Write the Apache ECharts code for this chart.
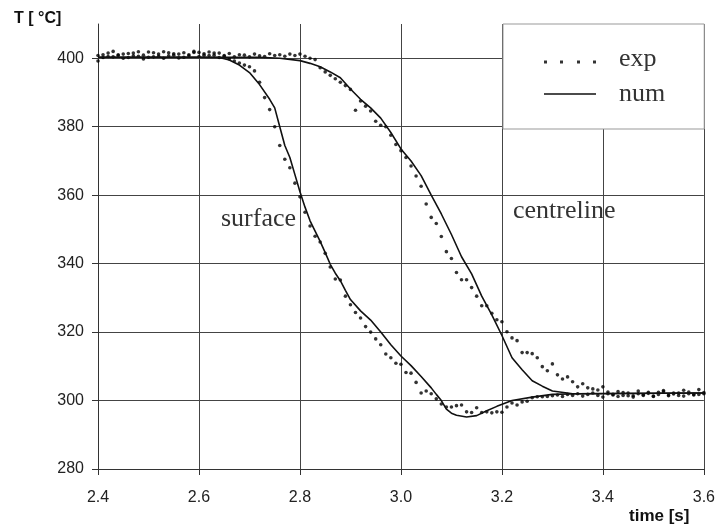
<!DOCTYPE html>
<html>
<head>
<meta charset="UTF-8">
<title>T over time</title>
<script type="text/javascript" src="https://cdn.jsdelivr.net/npm/echarts@6/dist/echarts.min.js"></script>
<style type="text/css">
body {
	margin: 0;
	background-color: #fff
}
</style>
</head>
<body>
	<div id="result_chart" style="height: 527px; width: 718px"></div>
</body>
<script type="text/javascript">
	var xTicks = [ 2.4, 2.6, 2.8, 3.0, 3.2, 3.4, 3.6 ];
	var yTicks = [ 280, 300, 320, 340, 360, 380, 400 ];

	// measured points, one every 0.01 s
	var expTime = [ 2.40, 2.41, 2.42, 2.43, 2.44, 2.45, 2.46, 2.47, 2.48, 2.49,
			2.50, 2.51, 2.52, 2.53, 2.54, 2.55, 2.56, 2.57, 2.58, 2.59, 2.60,
			2.61, 2.62, 2.63, 2.64, 2.65, 2.66, 2.67, 2.68, 2.69, 2.70, 2.71,
			2.72, 2.73, 2.74, 2.75, 2.76, 2.77, 2.78, 2.79, 2.80, 2.81, 2.82,
			2.83, 2.84, 2.85, 2.86, 2.87, 2.88, 2.89, 2.90, 2.91, 2.92, 2.93,
			2.94, 2.95, 2.96, 2.97, 2.98, 2.99, 3.00, 3.01, 3.02, 3.03, 3.04,
			3.05, 3.06, 3.07, 3.08, 3.09, 3.10, 3.11, 3.12, 3.13, 3.14, 3.15,
			3.16, 3.17, 3.18, 3.19, 3.20, 3.21, 3.22, 3.23, 3.24, 3.25, 3.26,
			3.27, 3.28, 3.29, 3.30, 3.31, 3.32, 3.33, 3.34, 3.35, 3.36, 3.37,
			3.38, 3.39, 3.40, 3.41, 3.42, 3.43, 3.44, 3.45, 3.46, 3.47, 3.48,
			3.49, 3.50, 3.51, 3.52, 3.53, 3.54, 3.55, 3.56, 3.57, 3.58, 3.59,
			3.60 ];
	var surfExp = [ 399.2, 401.0, 400.5, 402.0, 400.8, 401.2, 400.2, 401.5,
			400.6, 399.8, 401.8, 400.4, 401.2, 400.0, 401.6, 400.9, 401.2,
			400.3, 401.0, 401.7, 400.5, 401.3, 400.8, 401.5, 400.2, 400.8,
			399.8, 399.2, 398.6, 398.0, 397.5, 396.3, 393.0, 388.5, 385.0,
			380.0, 374.5, 370.5, 368.0, 363.5, 359.5, 355.0, 351.0, 348.0,
			346.3, 343.0, 339.0, 335.5, 335.2, 330.5, 328.0, 325.7, 324.1,
			321.6, 320.0, 318.0, 316.3, 313.6, 312.5, 310.9, 310.6, 308.2,
			308.0, 305.3, 302.2, 302.8, 302.0, 300.5, 299.0, 298.1, 298.1,
			298.5, 298.7, 296.7, 296.5, 297.9, 296.5, 296.7, 296.4, 296.7,
			296.6, 298.1, 299.3, 298.7, 299.6, 299.8, 300.8, 301.1, 301.1,
			301.2, 301.4, 301.6, 301.2, 301.8, 301.5, 302.0, 301.3, 301.8,
			302.2, 301.5, 301.0, 302.0, 301.6, 301.2, 302.3, 301.4, 301.0,
			302.0, 301.5, 302.4, 301.2, 301.8, 302.6, 301.4, 301.9, 302.2,
			301.3, 302.5, 301.6, 301.8, 302.0 ];
	var centExp = [ 400.8, 400.2, 401.5, 400.4, 401.0, 400.0, 401.4, 400.7,
			401.9, 400.9, 400.3, 401.6, 400.6, 401.9, 400.7, 401.3, 400.1,
			401.6, 400.7, 402.0, 401.7, 400.9, 401.8, 400.9, 401.5, 400.6,
			401.4, 400.4, 401.0, 400.9, 400.4, 401.2, 400.7, 400.5, 401.3,
			400.8, 401.0, 400.6, 401.2, 400.8, 401.2, 400.6, 400.0, 399.6,
			397.2, 396.0, 395.0, 394.0, 393.0, 392.0, 390.9, 384.8, 387.5,
			386.0, 384.6, 381.6, 380.4, 380.0, 377.5, 374.8, 373.0, 371.0,
			368.5, 365.6, 362.6, 357.4, 353.5, 351.7, 347.9, 343.5, 341.5,
			337.4, 335.3, 335.3, 333.0, 330.5, 327.7, 327.7, 325.5, 323.6,
			323.0, 320.1, 318.3, 317.5, 314.0, 314.0, 313.7, 312.5, 309.9,
			308.7, 310.7, 307.5, 306.3, 306.9, 305.5, 304.0, 304.9, 303.7,
			303.4, 303.1, 304.0, 302.5, 301.8, 302.6, 301.5, 302.2, 301.4,
			302.8, 301.7, 302.1, 301.3, 302.4, 302.9, 301.6, 302.2, 301.5,
			303.0, 302.0, 301.8, 303.2, 302.3 ];

	// numerical results
	var surfNumT = [ 2.40, 2.60, 2.64, 2.66, 2.68, 2.70, 2.72, 2.74, 2.75, 2.76,
			2.77, 2.78, 2.79, 2.80, 2.81, 2.82, 2.83, 2.84, 2.85, 2.86, 2.87,
			2.88, 2.89, 2.90, 2.92, 2.94, 2.96, 2.98, 3.00, 3.02, 3.04, 3.06,
			3.07, 3.08, 3.09, 3.10, 3.11, 3.13, 3.15, 3.17, 3.19, 3.22, 3.26,
			3.30, 3.35, 3.60 ];
	var surfNumV = [ 400.3, 400.3, 400.2, 399.5, 398.0, 395.8, 392.3, 388.0,
			385.5, 380.0, 374.5, 371.0, 366.0, 361.0, 356.5, 352.5, 349.5,
			346.5, 343.2, 339.8, 337.2, 335.0, 332.2, 329.5, 326.2, 323.5,
			320.0, 316.3, 313.0, 310.2, 307.0, 303.7, 301.8, 300.0, 297.5,
			296.3, 295.7, 295.2, 295.6, 297.0, 298.3, 300.0, 301.0, 301.8,
			302.0, 302.2 ];
	var centNumT = [ 2.40, 2.72, 2.76, 2.80, 2.82, 2.84, 2.86, 2.88, 2.90, 2.92,
			2.94, 2.96, 2.98, 3.00, 3.02, 3.04, 3.06, 3.08, 3.10, 3.12, 3.14,
			3.16, 3.18, 3.20, 3.22, 3.24, 3.26, 3.28, 3.30, 3.34, 3.60 ];
	var centNumV = [ 400.3, 400.3, 400.0, 399.3, 398.5, 397.5, 396.0, 394.3,
			391.0, 388.0, 385.5, 382.5, 378.3, 373.5, 370.0, 365.7, 360.0,
			354.5, 348.5, 342.0, 337.0, 330.5, 325.0, 319.0, 312.5, 309.0,
			305.8, 304.2, 302.8, 302.0, 302.2 ];

	function pairs(t, v) {
		var out = [];
		for (var i = 0; i < v.length; i++) {
			out.push([ t[i], v[i] ]);
		}
		return out;
	}

	var myChart = echarts.init(document.getElementById("result_chart"));
	var gridColor = '#444';
	// legend icons: bbox 0..52 x 0..10, tiny corner marks keep the box
	var dotsIcon = 'path://M0,0L0.01,0ZM52,10L51.99,10Z'
			+ 'M0,6.5h3v3h-3zM16,6.5h3v3h-3zM33,6.5h3v3h-3zM49,6.5h3v3h-3z';
	var lineIcon = 'path://M0,0L0.01,0ZM52,10L51.99,10Z'
			+ 'M0,4.2h52v1.6h-52z';
	option = {
		animation : false,
		backgroundColor : '#fff',
		grid : {
			left : 98,
			right : 12,
			top : 24,
			bottom : 58
		},
		xAxis : {
			type : 'value',
			min : xTicks[0],
			max : xTicks[xTicks.length - 1],
			interval : 0.2,
			axisLine : {
				lineStyle : {
					color : '#333'
				}
			},
			axisTick : {
				length : 6,
				lineStyle : {
					color : '#333'
				}
			},
			axisLabel : {
				margin : 21,
				fontFamily : 'Liberation Sans',
				fontSize : 16,
				color : '#222',
				formatter : function(v) {
					return v.toFixed(1);
				}
			},
			splitLine : {
				show : true,
				lineStyle : {
					color : gridColor,
					width : 1
				}
			}
		},
		yAxis : {
			type : 'value',
			min : 280,
			max : 410,
			interval : 20,
			axisLine : {
				show : true,
				lineStyle : {
					color : '#333'
				}
			},
			axisTick : {
				show : true,
				length : 6,
				customValues : yTicks,
				lineStyle : {
					color : '#333'
				}
			},
			axisLabel : {
				margin : 14,
				showMaxLabel : false,
				fontFamily : 'Liberation Sans',
				fontSize : 16,
				color : '#222'
			},
			splitLine : {
				show : true,
				lineStyle : {
					color : gridColor,
					width : 1
				}
			}
		},
		legend : {
			left : 503,
			top : 24,
			orient : 'vertical',
			backgroundColor : '#fff',
			borderColor : '#999',
			borderWidth : 1,
			padding : [ 22, 39, 22, 41 ],
			itemWidth : 52,
			itemHeight : 10,
			itemGap : 9,
			selectedMode : false,
			textStyle : {
				fontFamily : 'Liberation Serif',
				fontSize : 26,
				lineHeight : 26,
				color : '#333',
				padding : [ 0, 0, 0, 18 ]
			},
			data : [ {
				name : 'exp',
				icon : dotsIcon
			}, {
				name : 'num',
				icon : lineIcon
			} ]
		},
		graphic : [ {
			type : 'text',
			left : 14,
			top : 11,
			style : {
				text : 'T [ °C]',
				font : 'bold 16px "Liberation Sans"',
				fill : '#111'
			}
		}, {
			type : 'text',
			left : 629,
			top : 508,
			style : {
				text : 'time [s]',
				font : 'bold 17px "Liberation Sans"',
				fill : '#111'
			}
		}, {
			type : 'text',
			x : 221,
			y : 219,
			style : {
				text : 'surface',
				font : '26px "Liberation Serif"',
				fill : '#333',
				verticalAlign : 'middle'
			}
		}, {
			type : 'text',
			x : 513,
			y : 211,
			style : {
				text : 'centreline',
				font : '26px "Liberation Serif"',
				fill : '#333',
				verticalAlign : 'middle'
			}
		} ],
		series : [ {
			name : 'exp',
			type : 'scatter',
			symbol : 'circle',
			symbolSize : 3.6,
			itemStyle : {
				color : '#000'
			},
			data : pairs(expTime, surfExp)
		}, {
			name : 'exp',
			type : 'scatter',
			symbol : 'circle',
			symbolSize : 3.6,
			itemStyle : {
				color : '#000'
			},
			data : pairs(expTime, centExp)
		}, {
			name : 'num',
			type : 'line',
			showSymbol : false,
			itemStyle : {
				color : '#111'
			},
			lineStyle : {
				color : '#111',
				width : 1.6
			},
			data : pairs(surfNumT, surfNumV)
		}, {
			name : 'num',
			type : 'line',
			showSymbol : false,
			itemStyle : {
				color : '#111'
			},
			lineStyle : {
				color : '#111',
				width : 1.6
			},
			data : pairs(centNumT, centNumV)
		} ]
	};
	myChart.setOption(option);
</script>
</html>
